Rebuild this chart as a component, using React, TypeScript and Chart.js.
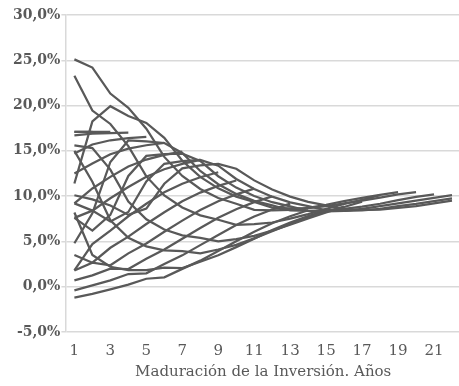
import React, { useEffect, useRef } from 'react';
import { Chart, registerables } from 'chart.js';

Chart.register(...registerables);

const categories = ['1','2','3','4','5','6','7','8','9','10','11','12','13','14','15','16','17','18','19','20','21','22'];
const yTicks = [-5, 0, 5, 10, 15, 20, 25, 30];
const axisTitle = 'Maduración de la Inversión. Años';

const serie1 = [10.1, 9.65, 8.97, 7.93, 8.62, 11.37, 13.07, 13.39, 13.57, 13.03, 11.74, 10.73, 9.95, 9.37, 8.98, 8.53, 8.48, 8.52, 8.7, 8.9, 9.2, 9.5];
const serie2 = [9.2, 8.4, 7.2, 8.25, 11.62, 13.57, 13.86, 14.0, 13.36, 11.9, 10.78, 9.94, 9.32, 8.9, 8.43, 8.38, 8.42, 8.6, 8.9, 9.15, 9.45, 9.75];
const serie3 = [7.6, 6.2, 7.93, 12.23, 14.44, 14.63, 14.69, 13.88, 12.2, 10.94, 10.01, 9.33, 8.88, 8.37, 8.32, 8.38, 8.6, 8.9, 9.2, 9.5, 9.8, 10.1];
const serie4 = [4.8, 8.1, 13.77, 16.15, 16.04, 15.87, 14.77, 12.78, 11.31, 10.25, 9.48, 8.98, 8.43, 8.37, 8.43, 8.6, 8.84, 9.16, 9.56, 9.93, 10.2];
const serie5 = [11.4, 18.25, 19.93, 18.85, 18.08, 16.43, 13.91, 12.13, 10.86, 9.95, 9.36, 8.73, 8.65, 8.69, 8.9, 9.2, 9.5, 9.84, 10.2, 10.45];
const serie6 = [25.1, 24.2, 21.33, 19.75, 17.44, 14.33, 12.23, 10.79, 9.79, 9.16, 8.49, 8.42, 8.48, 8.7, 9.05, 9.45, 9.8, 10.15, 10.45];
const serie7 = [23.3, 19.45, 17.97, 15.53, 12.18, 10.08, 8.74, 7.88, 7.39, 6.83, 6.9, 7.09, 7.51, 8.02, 8.6, 9.13, 9.6, 10.1];
const serie8 = [15.6, 15.3, 12.93, 9.4, 7.44, 6.32, 5.67, 5.4, 5.0, 5.26, 5.62, 6.19, 6.85, 7.55, 8.19, 8.8, 9.4];
const serie9 = [15.0, 11.6, 7.33, 5.4, 4.46, 4.02, 3.94, 3.68, 4.11, 4.62, 5.34, 6.12, 6.93, 7.66, 8.29, 8.84];
const serie10 = [8.2, 3.5, 2.2, 1.83, 1.82, 2.1, 2.06, 2.75, 3.47, 4.37, 5.31, 6.26, 7.09, 7.81, 8.43];
const serie11 = [-1.2, -0.8, -0.3, 0.23, 0.88, 1.03, 1.97, 2.88, 3.94, 5.02, 6.08, 7.0, 7.78, 8.44];
const serie12 = [-0.4, 0.15, 0.7, 1.4, 1.48, 2.5, 3.46, 4.59, 5.71, 6.81, 7.75, 8.53, 9.18];
const serie13 = [0.7, 1.25, 2.0, 1.95, 3.08, 4.1, 5.3, 6.48, 7.61, 8.56, 9.34, 9.98];
const serie14 = [1.8, 2.65, 2.37, 3.68, 4.78, 6.07, 7.3, 8.48, 9.43, 10.2, 10.83];
const serie15 = [3.5, 2.65, 4.3, 5.53, 6.92, 8.22, 9.43, 10.39, 11.13, 11.73];
const serie16 = [1.8, 4.7, 6.2, 7.78, 9.16, 10.42, 11.37, 12.09, 12.64];
const serie17 = [7.6, 8.4, 9.77, 11.0, 12.14, 12.97, 13.56, 14.0];
const serie18 = [9.2, 10.85, 12.13, 13.28, 14.04, 14.55, 14.91];
const serie19 = [12.5, 13.6, 14.63, 15.25, 15.62, 15.87];
const serie20 = [14.7, 15.7, 16.17, 16.4, 16.54];
const serie21 = [16.7, 16.9, 16.97, 17.0];
const serie22 = [17.1, 17.1, 17.1];
const serie23 = [17.1, 17.1];

const allSeries = [serie1, serie2, serie3, serie4, serie5, serie6, serie7, serie8, serie9, serie10, serie11, serie12,
  serie13, serie14, serie15, serie16, serie17, serie18, serie19, serie20, serie21, serie22, serie23];

export default function App() {
  const ref = useRef<HTMLCanvasElement>(null);
  useEffect(() => {
    if (!ref.current) return;
    const chart = new Chart(ref.current, {
      type: 'line',
      data: {
        labels: categories,
        datasets: allSeries.map((s, i) => ({
          label: 'Serie ' + (i + 1),
          data: s,
          borderColor: '#595959',
          backgroundColor: '#595959',
          borderWidth: 2.25,
          pointRadius: 0,
          pointHoverRadius: 0,
          fill: false,
          tension: 0,
        })),
      },
      options: {
        responsive: false,
        animation: false,
        layout: { padding: { top: 15, left: 12, right: 0, bottom: 5 } },
        plugins: { legend: { display: false }, tooltip: { enabled: false }, title: { display: false } },
        scales: {
          x: {
            type: 'category',
            offset: true,
            grid: { display: false, drawTicks: false },
            border: { display: false },
            ticks: {
              autoSkip: false,
              maxRotation: 0,
              minRotation: 0,
              padding: 10,
              color: '#595959',
              font: { family: 'DejaVu Serif', size: 15 },
              callback: (_v: any, i: number) => (i % 2 === 0 ? categories[i] : ''),
            },
            title: {
              display: true,
              text: axisTitle,
              color: '#595959',
              font: { family: 'DejaVu Serif', size: 15 },
              padding: { top: -7, bottom: 0 },
            },
          },
          y: {
            min: -5,
            max: 30,
            afterBuildTicks: (axis: any) => { axis.ticks = yTicks.map((v) => ({ value: v })); },
            grid: { color: '#d9d9d9', lineWidth: 1.5, tickLength: 4, drawTicks: true },
            border: { display: true, color: '#d9d9d9', width: 1.5 },
            ticks: {
              padding: 1,
              color: '#595959',
              font: { family: 'DejaVu Serif', size: 14, weight: 'bold' },
              callback: (v: any) => Number(v).toFixed(1).replace('.', ',') + '%',
            },
          },
        },
      },
    });
    return () => chart.destroy();
  }, []);
  return (
    <div style={{ position: 'fixed', left: 0, top: 0, width: 459, height: 386, overflow: 'hidden', background: '#fff' }}>
      <canvas ref={ref} width={462} height={386} style={{ display: 'block' }} />
    </div>
  );
}
